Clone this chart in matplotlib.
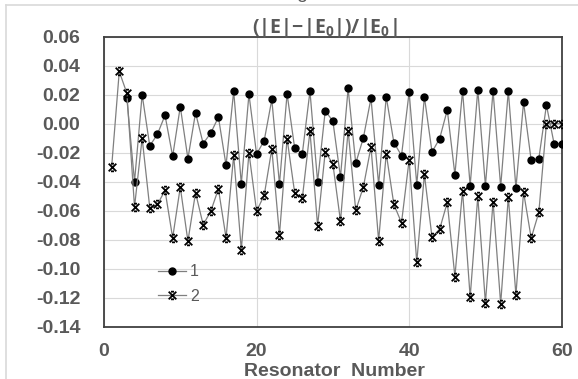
import matplotlib
matplotlib.use("Agg")
import matplotlib.pyplot as plt
from matplotlib.path import Path
from matplotlib.lines import Line2D
import numpy as np

# 데이터
res_2 = list(range(1, 61))
series_2 = [-0.030, 0.036, 0.021, -0.0575, -0.010, -0.058, -0.0557, -0.046, -0.0787, -0.0437,
            -0.081, -0.0476, -0.0697, -0.0603, -0.045, -0.0787, -0.0218, -0.087, -0.020, -0.0603,
            -0.0494, -0.0174, -0.0766, -0.0103, -0.0478, -0.0513, -0.0052, -0.0704, -0.0195, -0.0276,
            -0.0672, -0.0047, -0.0598, -0.0437, -0.016, -0.0806, -0.0206, -0.0557, -0.0683, -0.025,
            -0.0955, -0.035, -0.0783, -0.0727, -0.0543, -0.1054, -0.0462, -0.1197, -0.0502, -0.1236,
            -0.0538, -0.1243, -0.0506, -0.1181, -0.0471, -0.0789, -0.0612, 0.000, 0.000, 0.000]

res_1 = list(range(3, 61))
series_1 = [0.0174, -0.040, 0.020, -0.0153, -0.0073, 0.0058, -0.0225, 0.0118,
            -0.0241, 0.0075, -0.0137, -0.0064, 0.0045, -0.0287, 0.0224, -0.0414, 0.0204, -0.021,
            -0.0117, 0.0167, -0.0416, 0.0206, -0.017, -0.0206, 0.0224, -0.040, 0.0088, 0.0019,
            -0.0368, 0.0243, -0.0273, -0.0098, 0.0176, -0.042, 0.0185, -0.013, -0.022, 0.0218,
            -0.042, 0.0185, -0.0195, -0.0103, 0.0095, -0.0352, 0.0227, -0.0428, 0.0235, -0.0428,
            0.0227, -0.0435, 0.0227, -0.0444, 0.0148, -0.0253, -0.0241, 0.0128, -0.0137, -0.0137]

labels = ["1", "2"]
x_ticks = [0, 20, 40, 60]
y_ticks = [-0.14, -0.12, -0.10, -0.08, -0.06, -0.04, -0.02, 0.00, 0.02, 0.04, 0.06]

GRAY_TXT = "#595959"
plt.rcParams["font.family"] = ["Liberation Sans", "DejaVu Sans"]
plt.rcParams["mathtext.fontset"] = "custom"
plt.rcParams["mathtext.bf"] = "Open Sans:bold"
plt.rcParams["mathtext.rm"] = "Open Sans:bold"

# x 마커 위아래에 짧은 가로 막대
star_x = Path(
    [(-1, -1), (1, 1), (-1, 1), (1, -1), (-0.4, 1), (0.4, 1), (-0.4, -1), (0.4, -1)],
    [Path.MOVETO, Path.LINETO, Path.MOVETO, Path.LINETO,
     Path.MOVETO, Path.LINETO, Path.MOVETO, Path.LINETO],
)

W, H = 578, 379
fig = plt.figure(figsize=(W / 100, H / 100), dpi=100)
ax = fig.add_axes([104 / W, 1 - 326.7 / H, (561.7 - 104) / W, (326.7 - 36.7) / H])

ax.plot(res_1, series_1, color="#7f7f7f", linewidth=0.9, marker="o", markersize=5,
        markerfacecolor="black", markeredgecolor="black", label=labels[0], zorder=3)
ax.plot(res_2, series_2, color="#7f7f7f", linewidth=0.9, marker=star_x, markersize=5.5,
        markerfacecolor="none", markeredgecolor="black", markeredgewidth=1.3,
        label=labels[1], zorder=4)

ax.set_xlim(0, 60)
ax.set_ylim(-0.14, 0.06)
ax.set_xticks(x_ticks)
ax.set_xticklabels([str(t) for t in x_ticks])
ax.set_yticks(y_ticks)
ax.set_yticklabels([f"{abs(t):.2f}" if abs(t) < 1e-9 else f"{t:.2f}" for t in y_ticks])
ax.tick_params(length=0, labelsize=14, colors=GRAY_TXT)
ax.tick_params(axis="y", pad=17)
ax.tick_params(axis="x", pad=12)
for lab in ax.get_xticklabels() + ax.get_yticklabels():
    lab.set_fontweight("bold")

ax.grid(True, color="#d9d9d9", linewidth=0.8)
ax.set_axisbelow(True)
for sp in ax.spines.values():
    sp.set_color("#404040")
    sp.set_linewidth(1.3)

# 축 제목
fig.text(334.5 / W, 1 - 376 / H, "Resonator  Number", ha="center", va="baseline",
         fontsize=14, fontweight="bold", color=GRAY_TXT)
fig.text(325 / W, 1 - 33.5 / H, r"$\mathbf{(|E|\!-\!|E_0|)/|E_0|}$", ha="center",
         va="baseline", fontsize=14, color=GRAY_TXT)
# 위쪽에 잘려 보이는 글자 조각
fig.text(302 / W, 1 + 1.5 / H, "g", ha="center", va="baseline", fontsize=14, color=GRAY_TXT)

leg = ax.legend(loc="center left", bbox_to_anchor=(0.118, 0.147), frameon=False, fontsize=11.5,
                handlelength=1.75, handletextpad=0.25, labelspacing=0.6, borderpad=0,
                borderaxespad=0, labelcolor=GRAY_TXT)

# 바깥 테두리 (연회색)
fig.add_artist(Line2D([6 / W, 1], [1 - 5 / H, 1 - 5 / H], color="#d9d9d9", linewidth=1.2))
fig.add_artist(Line2D([6 / W, 6 / W], [0, 1 - 5 / H], color="#d9d9d9", linewidth=1.2))

fig.savefig("out.png", dpi=100, facecolor="white")
